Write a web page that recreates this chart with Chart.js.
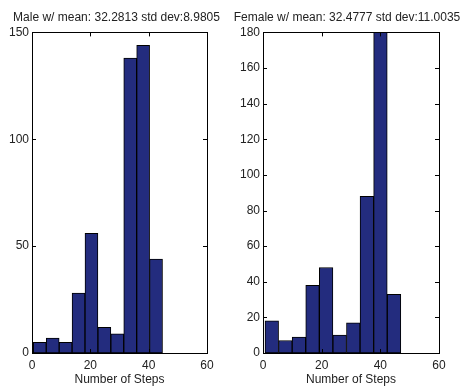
<!DOCTYPE html>
<html><head><meta charset="utf-8">
<script src="https://cdn.jsdelivr.net/npm/chart.js@4/dist/chart.umd.min.js"></script>
<style>
html,body{margin:0;padding:0;background:#fff;}
#wrap{position:relative;width:463px;height:387px;}
.c{position:absolute;top:0;}
</style></head><body>
<div id="wrap">
<div class="c" style="left:0;width:233px;height:387px;"><canvas id="male"></canvas></div>
<div class="c" style="left:231px;width:232px;height:387px;"><canvas id="female"></canvas></div>
</div>
<script>
const maleTitle = "Male w/ mean: 32.2813 std dev:8.9805";
const femaleTitle = "Female w/ mean: 32.4777 std dev:11.0035";
const xLabel = "Number of Steps";
const maleBinCenters = [2.665, 7.095, 11.525, 15.955, 20.385, 24.815, 29.245, 33.675, 38.105, 42.535];
const maleCounts = [5, 7, 5, 28, 56, 12, 9, 138, 144, 44];
const femaleBinCenters = [2.995, 7.625, 12.255, 16.885, 21.515, 26.145, 30.775, 35.405, 40.035, 44.665];
const femaleCounts = [18, 7, 9, 38, 48, 10, 17, 88, 195, 33];
const xTicks = [0, 20, 40, 60];
const maleYTicks = [0, 50, 100, 150];
const femaleYTicks = [0, 20, 40, 60, 80, 100, 120, 140, 160, 180];

const FONT = "'Liberation Sans', Arial, sans-serif";
const TXT = '#222';

const boxPlugin = {
  id: 'matlabBox',
  afterDatasetsDraw(chart) {
    const {ctx, chartArea: a, scales} = chart;
    ctx.save();
    ctx.strokeStyle = '#000';
    ctx.lineWidth = 1;
    ctx.strokeRect(Math.round(a.left) + 0.5, Math.round(a.top) + 0.5,
                   Math.round(a.right - a.left), Math.round(a.bottom - a.top));
    const L = 4;
    ctx.beginPath();
    scales.x.ticks.forEach(t => {
      const px = Math.round(scales.x.getPixelForValue(t.value)) + 0.5;
      ctx.moveTo(px, a.bottom); ctx.lineTo(px, a.bottom - L);
      ctx.moveTo(px, a.top); ctx.lineTo(px, a.top + L);
    });
    scales.y.ticks.forEach(t => {
      const py = Math.round(scales.y.getPixelForValue(t.value)) + 0.5;
      ctx.moveTo(a.left, py); ctx.lineTo(a.left + L, py);
      ctx.moveTo(a.right, py); ctx.lineTo(a.right - L, py);
    });
    ctx.stroke();
    ctx.restore();
  }
};

function makeChart(id, title, centers, counts, yMax, yTicks, leftW, rightW) {
  new Chart(document.getElementById(id), {
    type: 'bar',
    data: {
      datasets: [{
        data: centers.map((c, i) => ({x: c, y: counts[i]})),
        backgroundColor: '#232c7e',
        borderColor: '#000',
        borderWidth: 1,
        borderSkipped: false,
        barPercentage: 1,
        categoryPercentage: 1
      }]
    },
    options: {
      responsive: true,
      maintainAspectRatio: false,
      animation: false,
      layout: {padding: 0},
      plugins: {
        legend: {display: false},
        tooltip: {enabled: false},
        title: {
          display: true, text: title, color: TXT,
          font: {family: FONT, size: 12, weight: 'normal'},
          padding: {top: 10, bottom: 8}
        }
      },
      scales: {
        x: {
          type: 'linear', min: 0, max: 60, offset: false,
          grid: {display: false, drawTicks: false, offset: false},
          border: {display: false},
          afterBuildTicks: s => { s.ticks = xTicks.map(v => ({value: v})); },
          ticks: {color: TXT, font: {family: FONT, size: 12}, padding: 5, maxRotation: 0},
          title: {display: true, text: xLabel, color: TXT, font: {family: FONT, size: 12}, padding: {top: 0, bottom: 0}},
          afterFit: s => { s.height = 34; }
        },
        y: {
          min: 0, max: yMax,
          grid: {display: false, drawTicks: false},
          border: {display: false},
          afterBuildTicks: s => { s.ticks = yTicks.map(v => ({value: v})); },
          ticks: {color: TXT, font: {family: FONT, size: 12}, padding: 3},
          afterFit: s => { s.width = leftW; }
        },
        yRight: {
          type: 'linear', position: 'right', min: 0, max: 1,
          grid: {display: false, drawTicks: false},
          border: {display: false},
          ticks: {display: false},
          afterFit: s => { s.width = rightW; }
        }
      }
    },
    plugins: [boxPlugin]
  });
}

makeChart('male', maleTitle, maleBinCenters, maleCounts, 150, maleYTicks, 32, 26);
makeChart('female', femaleTitle, femaleBinCenters, femaleCounts, 180, femaleYTicks, 32, 24);
</script>
</body></html>
